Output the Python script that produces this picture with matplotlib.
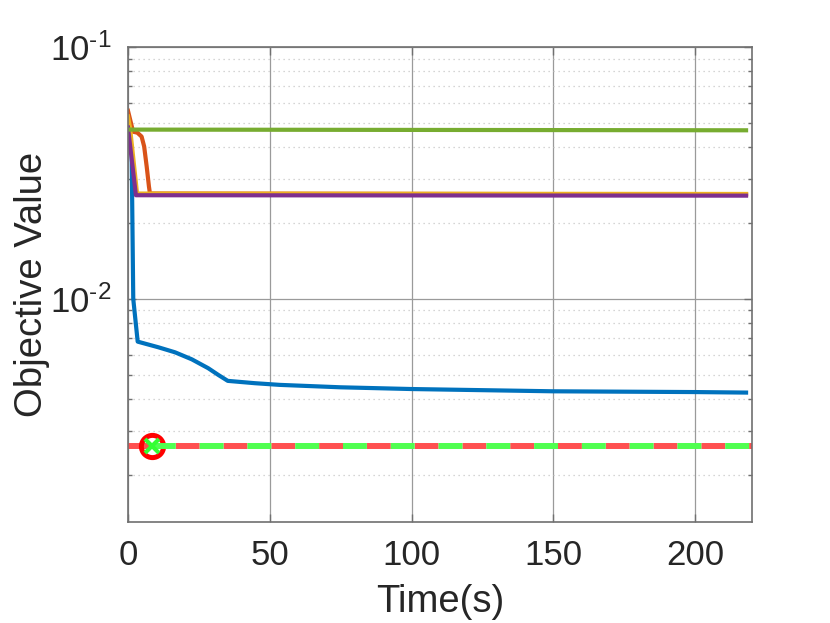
import numpy as np
import matplotlib.pyplot as plt
from matplotlib.ticker import LogLocator, NullFormatter, FuncFormatter

plt.rcParams['font.family'] = ['Liberation Sans', 'DejaVu Sans']
plt.rcParams['mathtext.fontset'] = 'custom'
plt.rcParams['mathtext.rm'] = 'Liberation Sans'
plt.rcParams['mathtext.it'] = 'Liberation Sans:italic'

# series (time in s, objective value)
blue_t = [0, 1.27, 1.86, 3.42, 10.7, 16.6, 22.5, 28.3, 31.9, 35.2, 44.8, 53.5, 75, 100,
          150, 200, 218]
blue_v = [0.048, 0.040, 0.010, 0.00677, 0.00643, 0.00614, 0.00576, 0.00531, 0.00499,
          0.00473, 0.00463, 0.00456, 0.00446, 0.00439, 0.00430, 0.00427, 0.00425]

orange_t = [0, 1.8, 3.3, 4.8, 5.7, 6.6, 7.4, 7.75, 218]
orange_v = [0.0558, 0.0461, 0.0457, 0.0441, 0.0403, 0.0335, 0.0279, 0.0262, 0.0260]

yellow_t = [0, 0.7, 3.2, 218]
yellow_v = [0.053, 0.048, 0.0262, 0.0261]

purple_t = [0, 2.8, 218]
purple_v = [0.0479, 0.0258, 0.0257]

green_t = [0, 218]
green_v = [0.0470, 0.0467]

opt_t = [0, 8.6, 220]
opt_v = [0.00262, 0.00262, 0.00262]

colors = {
    'blue': (0.0, 0.447, 0.741),
    'orange': (0.85, 0.325, 0.098),
    'yellow': (0.929, 0.694, 0.125),
    'purple': (0.494, 0.184, 0.556),
    'green': (0.466, 0.674, 0.188),
}

fig = plt.figure(figsize=(8.3, 6.23), dpi=100)
ax = fig.add_axes([0.1542, 0.1626, 0.7515, 0.762])

lw = 3.0
ax.plot(blue_t, blue_v, color=colors['blue'], lw=lw, solid_joinstyle='round')
ax.plot(orange_t, orange_v, color=colors['orange'], lw=lw, solid_joinstyle='round')
ax.plot(yellow_t, yellow_v, color=colors['yellow'], lw=lw, solid_joinstyle='round')
ax.plot(purple_t, purple_v, color=colors['purple'], lw=lw, solid_joinstyle='round')
ax.plot(green_t, green_v, color=colors['green'], lw=lw, solid_joinstyle='round')

dlw = 4.3
ax.plot(opt_t, opt_v, color='#ff5050', lw=dlw, linestyle=(0, (4, 4)),
        marker='o', markevery=[1], markersize=16, markerfacecolor='none',
        markeredgecolor='#ff0000', markeredgewidth=3.6)
ax.plot(opt_t, opt_v, color='#50ff50', lw=dlw, linestyle=(4, (4, 4)),
        marker='x', markevery=[1], markersize=10.5, markeredgecolor='#33ff33',
        markeredgewidth=3.0)

ax.set_yscale('log')
ax.set_xlim(0, 220)
ax.set_ylim(1.306e-3, 1e-1)
ax.set_xticks([0, 50, 100, 150, 200])
ax.yaxis.set_major_locator(LogLocator(base=10, numticks=10))
ax.yaxis.set_minor_locator(LogLocator(base=10, subs=np.arange(2, 10), numticks=20))
ax.yaxis.set_minor_formatter(NullFormatter())
ax.yaxis.set_major_formatter(
    FuncFormatter(lambda v, pos: r'$10^{\text{-}%d}$' % round(-np.log10(v))))

ax.grid(True, which='major', color='#9a9a9a', lw=0.9, ls='-')
ax.grid(True, which='minor', axis='y', color='#c8c8c8', lw=0.9, ls=(0, (1, 3)))
ax.set_axisbelow(True)

for s in ax.spines.values():
    s.set_color('#707070')
    s.set_linewidth(1.2)

ax.tick_params(which='both', direction='in', top=True, right=True,
               colors='#707070', labelcolor='#262626', labelsize=25)
ax.tick_params(which='major', length=6, width=1.0)
ax.tick_params(which='minor', length=3, width=1.0)
ax.tick_params(axis='x', pad=12.5)
ax.tick_params(axis='y', pad=12)

ax.set_xlabel('Time(s)', fontsize=27.5, color='#262626', labelpad=8.5)
ax.set_ylabel('Objective Value', fontsize=27.5, color='#262626')
ax.yaxis.set_label_coords(-0.125, 0.5)

fig.savefig('out.png', dpi=100)
